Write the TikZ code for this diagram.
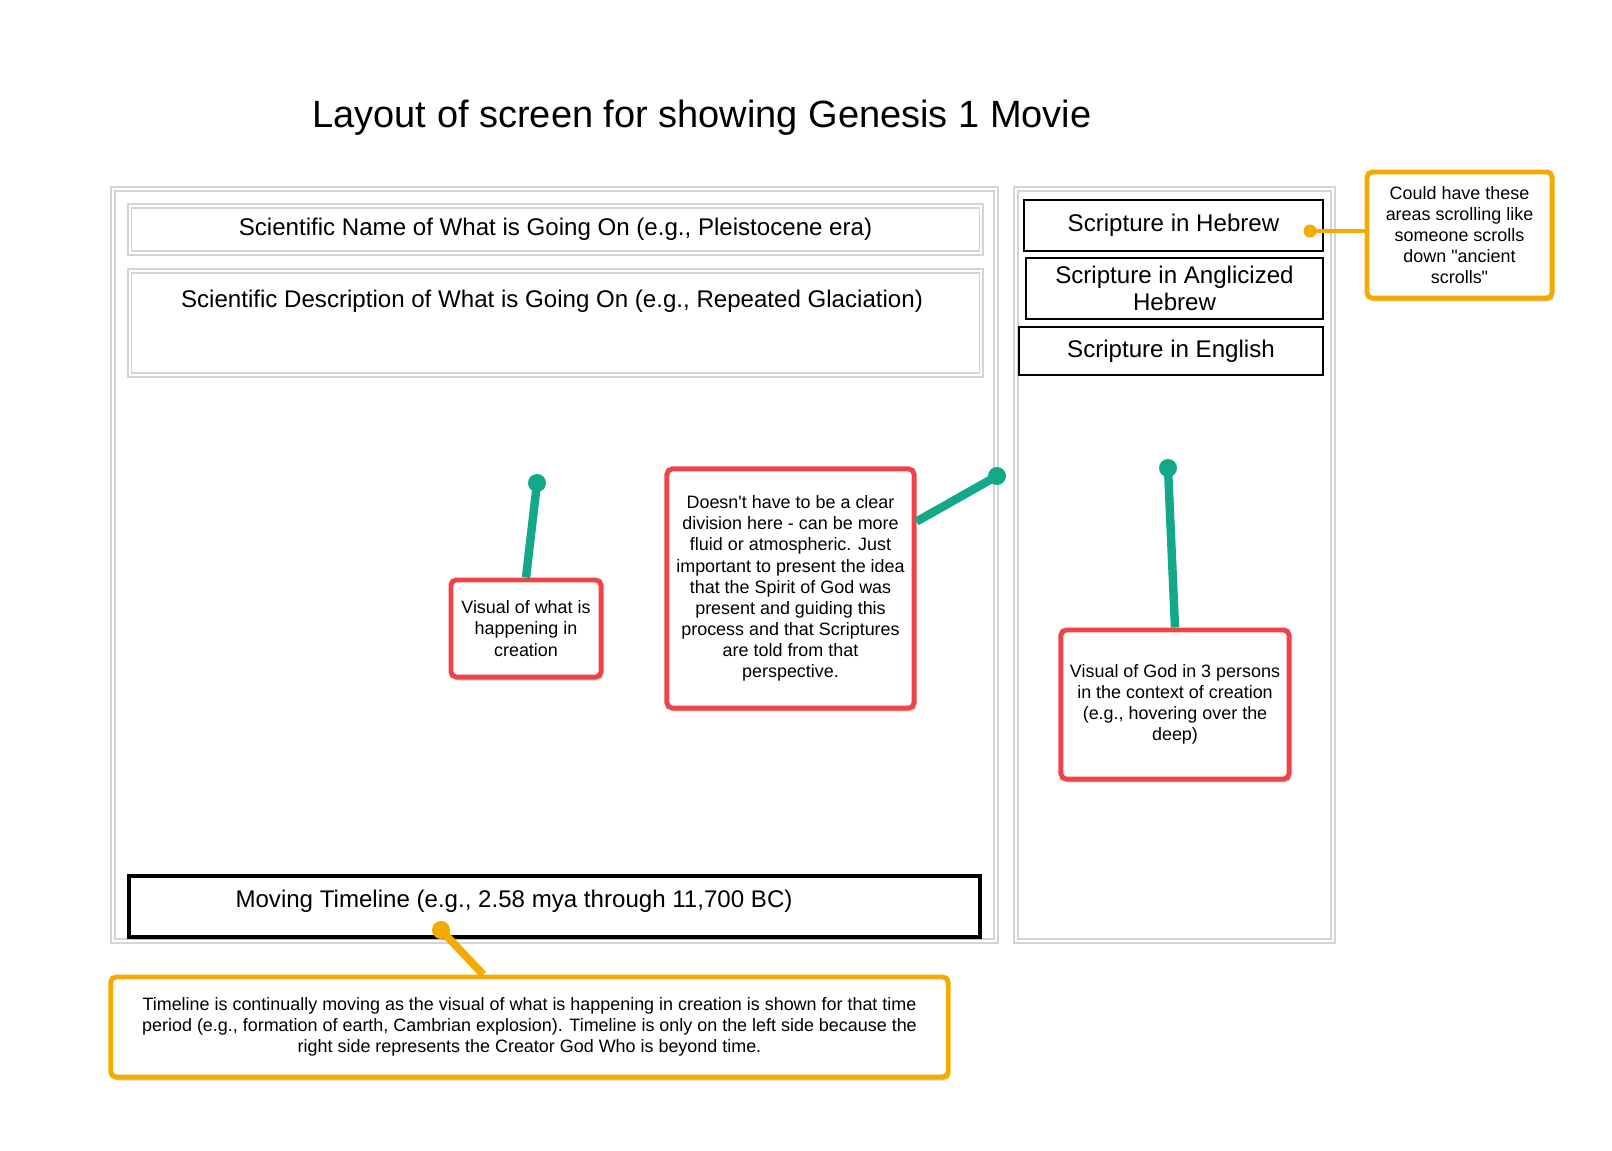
\documentclass[tikz,border=0pt]{standalone}
\usepackage{fontspec}
\setmainfont{Liberation Sans}
\usepackage{tikz}
\usetikzlibrary{arrows}
\usetikzlibrary{positioning,calc,shadows}

\definecolor{calloutred}{RGB}{238,68,72}
\definecolor{linkgreen}{RGB}{20,168,138}
\definecolor{noteorange}{RGB}{245,170,0}
\definecolor{framegray}{RGB}{212,212,212}

\newcommand{\titlesize}{\fontsize{10.8}{13}\selectfont}
\newcommand{\medsize}{\fontsize{6.85}{7.6}\selectfont}
\newcommand{\smallsize}{\fontsize{5.1}{6}\selectfont}

\tikzset{
  screenframe/.style={draw=framegray, double=white, double distance=0.6pt, line width=0.5pt, inner sep=0pt},
  panelbox/.style={draw=framegray, double=white, double distance=0.5pt, line width=0.5pt, fill=white,
    drop shadow={shadow xshift=0.4pt, shadow yshift=-0.8pt, opacity=0.25}, inner sep=0pt, font=\medsize},
  scripturebox/.style={draw, line width=0.5pt, inner sep=0pt, align=center, font=\medsize},
  redcallout/.style={draw=calloutred, line width=1.4pt, rounded corners=1.5pt, fill=white, align=center,
    drop shadow={shadow xshift=0.6pt, shadow yshift=-1pt, opacity=0.3}, inner sep=0pt, font=\smallsize},
  orangenote/.style={redcallout, draw=noteorange},
  greenlink/.style={draw=linkgreen, line width=2.4pt},
  orangelink/.style={draw=noteorange, line width=1.4pt}
}

\begin{document}
\begin{tikzpicture}[x=0.01cm,y=-0.01cm]
  \useasboundingbox (0,0) rectangle (1612,1150);
  % title
  \node[font=\titlesize] (title) at (702,118) {Layout of screen for showing Genesis 1 Movie};
  % the two halves of the screen
  \node[screenframe, minimum width=8.83cm, minimum height=7.52cm] (leftframe) at (554.5,565) {};
  \node[screenframe, minimum width=3.17cm, minimum height=7.52cm] (rightframe) at (1174.5,565) {};
  % left side
  \node[panelbox, minimum width=8.51cm, minimum height=0.47cm] (sciname) at (555.5,229.5) {Scientific Name of What is Going On (e.g., Pleistocene era)};
  \node[panelbox, minimum width=8.51cm, minimum height=1.04cm] (scidesc) at (555.5,323) {};
  \node[font=\medsize] (scidesctext) at (552,301) {Scientific Description of What is Going On (e.g., Repeated Glaciation)};
  \node[draw, line width=1.2pt, fill=white, minimum width=8.51cm, minimum height=0.61cm,
    drop shadow={shadow xshift=0.4pt, shadow yshift=-0.8pt, opacity=0.25}] (timeline) at (554.5,906.5) {};
  \node[font=\medsize] (timelinetext) at (514,901) {Moving Timeline (e.g., 2.58 mya through 11,700 BC)};
  % right side
  \node[scripturebox, minimum width=2.99cm, minimum height=0.51cm] (hebrew) at (1173.5,225.5) {Scripture in Hebrew};
  \node[scripturebox, minimum width=2.97cm, minimum height=0.61cm] (anglicized) at (1174.5,288.5) {Scripture in Anglicized\\Hebrew};
  \node[scripturebox, minimum width=3.04cm, minimum height=0.48cm] (english) at (1171,351) {Scripture in English};
  % callouts
  \node[orangenote, minimum width=1.85cm, minimum height=1.26cm] (scroll) at (1459.5,235)
    {Could have these\\areas scrolling like\\someone scrolls\\down \textquotedbl ancient\\scrolls\textquotedbl};
  \node[redcallout, minimum width=1.50cm, minimum height=0.97cm] (visual) at (526,628.5)
    {Visual of what is\\happening in\\creation};
  \node[redcallout, minimum width=2.47cm, minimum height=2.39cm] (spirit) at (790.5,588.5)
    {Doesn\textquotesingle t have to be a clear\\division here - can be more\\fluid or atmospheric. Just\\important to present the idea\\that the Spirit of God was\\present and guiding this\\process and that Scriptures\\are told from that\\perspective.};
  \node[redcallout, minimum width=2.28cm, minimum height=1.49cm] (god) at (1175,704.5)
    {Visual of God in 3 persons\\in the context of creation\\(e.g., hovering over the\\deep)};
  \node[orangenote, minimum width=8.37cm, minimum height=1.00cm] (tlnote) at (529.5,1027)
    {Timeline is continually moving as the visual of what is happening in creation is shown for that time\\period (e.g., formation of earth, Cambrian explosion). Timeline is only on the left side because the\\right side represents the Creator God Who is beyond time.};
  % connectors
  \coordinate (visualdot) at (537,483);
  \coordinate (spiritdot) at (997,476);
  \coordinate (goddot) at (1168,468);
  \coordinate (hebrewdot) at (1310,231);
  \coordinate (timelinedot) at (441,930);
  \draw[greenlink] (visualdot) -- (visual.north);
  \draw[greenlink] (spiritdot) -- (spirit.28);
  \draw[greenlink] (goddot) -- (god.north);
  \draw[orangelink] (hebrewdot) -- (scroll.west |- hebrewdot);
  \draw[orangelink, line width=2.2pt] (timelinedot) -- ($(tlnote.north west)!0.445!(tlnote.north east)$);
  \fill[linkgreen] (visualdot) circle[radius=0.09cm];
  \fill[linkgreen] (spiritdot) circle[radius=0.09cm];
  \fill[linkgreen] (goddot) circle[radius=0.09cm];
  \fill[noteorange] (hebrewdot) circle[radius=0.065cm];
  \fill[noteorange] (timelinedot) circle[radius=0.09cm];
\end{tikzpicture}
\end{document}
